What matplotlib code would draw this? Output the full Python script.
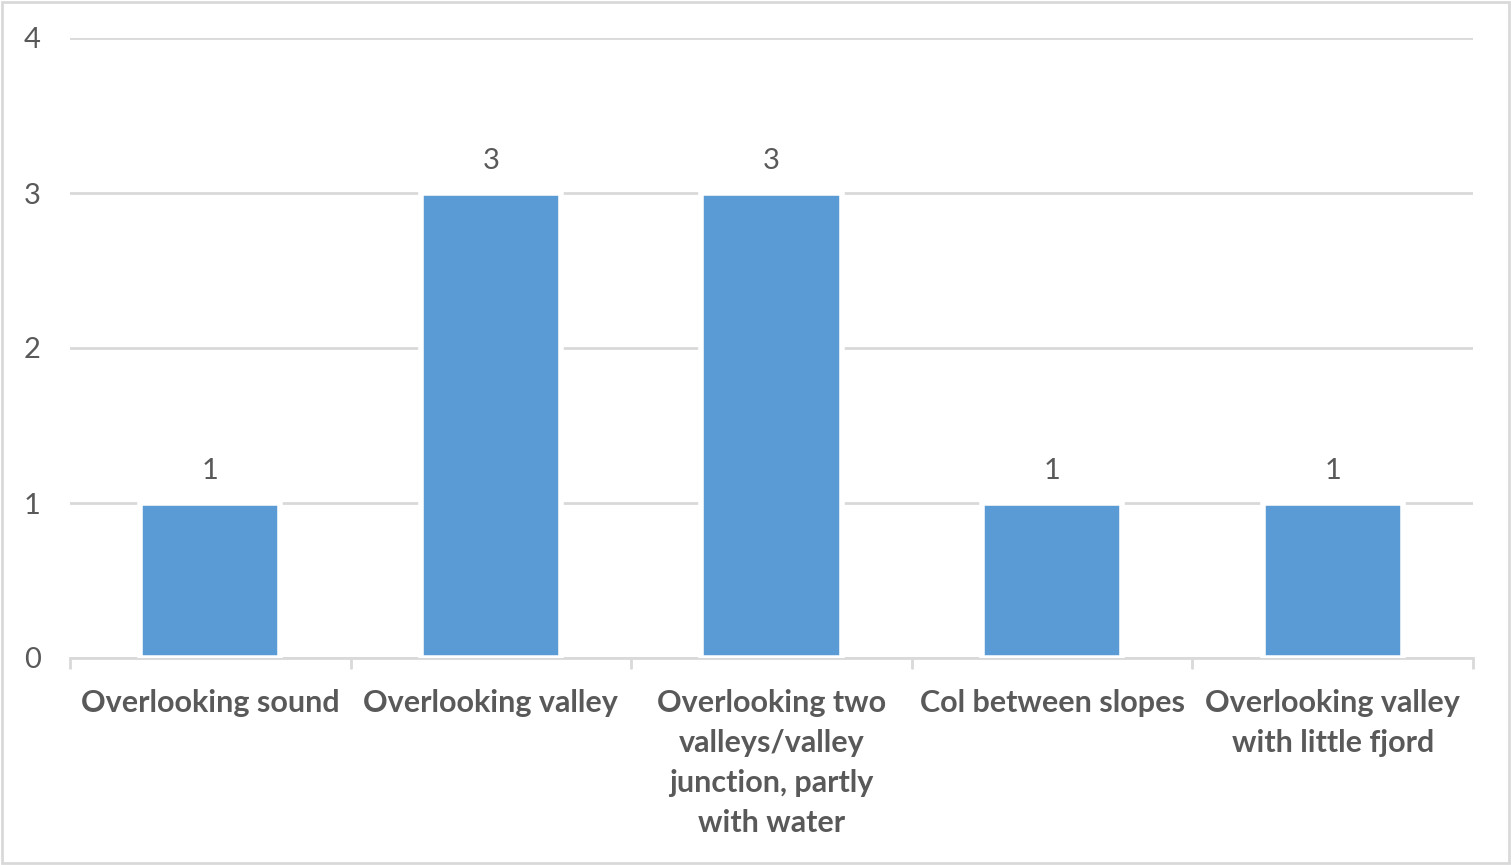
import matplotlib
matplotlib.use('Agg')
import matplotlib.pyplot as plt
from matplotlib.patches import Rectangle
import numpy as np

# chart data
categories = [
    "Overlooking sound",
    "Overlooking valley",
    "Overlooking two\nvalleys/valley\njunction, partly\nwith water",
    "Col between slopes",
    "Overlooking valley\nwith little fjord",
]
counts = [1, 3, 3, 1, 1]
y_ticks = [0, 1, 2, 3, 4]

TEXT = '#595959'
GRID = '#D9D9D9'
BAR = '#5B9BD5'

plt.rcParams['font.family'] = ['Lato', 'DejaVu Sans']

fig = plt.figure(figsize=(15.11, 8.65), dpi=100)
ax = fig.add_axes([70 / 1511, 1 - 658 / 865, 1403 / 1511, 620 / 865])

x = np.arange(len(categories))
bars = ax.bar(x, counts, width=0.50, color=BAR, edgecolor='white', linewidth=4, zorder=3)

ax.set_xlim(-0.5, len(categories) - 0.5)
ax.set_ylim(0, 4)
ax.set_yticks(y_ticks)
ax.set_yticklabels([str(t) for t in y_ticks], fontsize=21, color=TEXT)
ax.yaxis.grid(True, color=GRID, linewidth=2, zorder=0)
ax.tick_params(axis='y', length=0, pad=21)

# category labels centred, tick marks at category boundaries
ax.set_xticks(x)
ax.set_xticklabels(categories, fontsize=22, color=TEXT, fontweight='bold',
                   linespacing=1.53, va='top')
ax.tick_params(axis='x', which='major', length=0, pad=22)
ax.set_xticks(np.arange(-0.5, len(categories)), minor=True)
ax.tick_params(axis='x', which='minor', length=8, width=2, color=GRID)

for side in ['left', 'right', 'top']:
    ax.spines[side].set_visible(False)
ax.spines['bottom'].set_color(GRID)
ax.spines['bottom'].set_linewidth(2)

for b, v in zip(bars, counts):
    ax.annotate(str(v), (b.get_x() + b.get_width() / 2, v), xytext=(0, 23),
                textcoords='offset points', ha='center', va='center',
                fontsize=21, color=TEXT)

# chart area border
fig.patches.append(Rectangle((1.5 / 1511, 2.5 / 865), 1507 / 1511, 861 / 865,
                             transform=fig.transFigure, fill=False,
                             edgecolor=GRID, linewidth=2))

plt.savefig('out.png', dpi=100)
plt.close(fig)
